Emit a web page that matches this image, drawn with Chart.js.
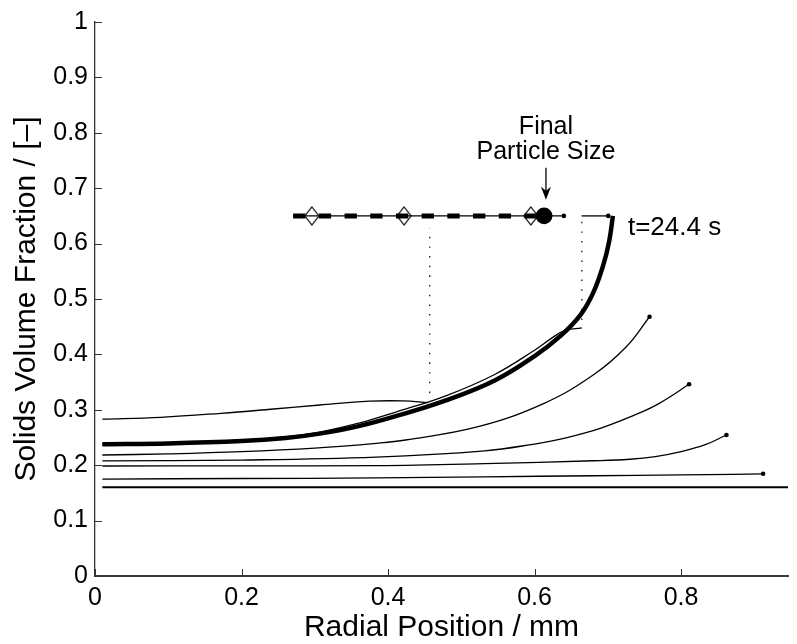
<!DOCTYPE html>
<html>
<head>
<meta charset="utf-8">
<script src="https://cdn.jsdelivr.net/npm/chart.js@4.4.0/dist/chart.umd.min.js"></script>
<style>
  html, body { margin: 0; padding: 0; background: #fff; }
  #wrap { width: 797px; height: 644px; }
</style>
</head>
<body>
<div id="wrap"><canvas id="profiles" width="797" height="644"></canvas></div>
<script>
// solids volume fraction profiles (radial position in mm)
const initX = [0.01, 0.95];
const initY = [0.16, 0.16];

const prof1X = [0.01, 0.2, 0.384, 0.532, 0.68, 0.8, 0.87, 0.912];
const prof1Y = [0.175, 0.176, 0.177, 0.179, 0.181, 0.1825, 0.1835, 0.1845];

const prof2X = [0.01, 0.2, 0.384, 0.532, 0.68, 0.73, 0.765, 0.8, 0.833, 0.862];
const prof2Y = [0.1986, 0.1988, 0.1992, 0.2028, 0.208, 0.2107, 0.2155, 0.2245, 0.237, 0.2545];

const prof3X = [0.01, 0.2, 0.384, 0.532, 0.6, 0.6355, 0.68, 0.703, 0.7403, 0.7703, 0.811];
const prof3Y = [0.2078, 0.2093, 0.2146, 0.226, 0.2382, 0.247, 0.2624, 0.2727, 0.2925, 0.3117, 0.346];

const prof4X = [0.01, 0.1, 0.2, 0.3, 0.384, 0.4241, 0.523, 0.613, 0.68, 0.7253, 0.757];
const prof4Y = [0.2184, 0.2205, 0.2245, 0.231, 0.2395, 0.2455, 0.2695, 0.3117, 0.3628, 0.4139, 0.468];

const prof5X = [0.01, 0.1, 0.2, 0.26, 0.307, 0.36, 0.4107, 0.478, 0.5456, 0.6, 0.622, 0.64, 0.6646];
const prof5Y = [0.238, 0.2395, 0.2447, 0.251, 0.2598, 0.2758, 0.296, 0.3248, 0.3638, 0.4075, 0.428, 0.4425, 0.448];

const prof6X = [0.01, 0.09, 0.172, 0.24, 0.307, 0.3747, 0.42, 0.455];
const prof6Y = [0.283, 0.2865, 0.2937, 0.301, 0.3087, 0.3155, 0.316, 0.313];

// final profile, t = 24.4 s
const finalX = [0.01, 0.1, 0.2, 0.26, 0.307, 0.36, 0.4107, 0.478, 0.5456, 0.6, 0.6355, 0.6625, 0.68, 0.694, 0.702, 0.707];
const finalY = [0.238, 0.2393, 0.2435, 0.249, 0.257, 0.2705, 0.2885, 0.3165, 0.353, 0.397, 0.4335, 0.471, 0.511, 0.562, 0.605, 0.65];

// particle size markers along phi = 0.65
const markY = 0.65;
const sizeLineX = [0.2705, 0.64];
const sizeDashX = [0.2705, 0.613];
const diamondX = [0.296, 0.4219, 0.595];
const finalSizeX = 0.613;
const tipLineX = [0.6642, 0.7006];

// dotted drop lines
const drop1X = 0.457, drop1Y = [0.33, 0.628];
const drop2X = 0.6646, drop2Y = [0.462, 0.6426];

const xTicks = [0, 0.2, 0.4, 0.6, 0.8];

const pts = (xs, ys) => xs.map((x, i) => ({x: x, y: ys[i]}));
const endDot = ctx => ctx.dataIndex === ctx.dataset.data.length - 1 ? 2.3 : 0;

function curve(xs, ys, w, dot) {
    return {
        data: pts(xs, ys),
        showLine: true,
        borderColor: '#000',
        backgroundColor: '#000',
        borderWidth: w,
        tension: 0.4,
        pointRadius: dot ? endDot : 0,
        pointHoverRadius: 0,
        pointBorderWidth: 0
    };
}

function diamond(w, h) {
    const c = document.createElement('canvas');
    c.width = w + 2; c.height = h + 2;
    const g = c.getContext('2d');
    g.beginPath();
    g.moveTo(c.width / 2, 1);
    g.lineTo(c.width - 1, c.height / 2);
    g.lineTo(c.width / 2, c.height - 1);
    g.lineTo(1, c.height / 2);
    g.closePath();
    g.strokeStyle = '#000';
    g.lineWidth = 1.2;
    g.stroke();
    return c;
}

const font = '"Liberation Sans", Arial, sans-serif';

const notes = {
    id: 'notes',
    afterDatasetsDraw(chart) {
        const {ctx, scales: {x, y}} = chart;
        ctx.save();
        // inward tick marks
        ctx.strokeStyle = '#333';
        ctx.lineWidth = 1;
        const b = chart.chartArea.bottom, l = chart.chartArea.left;
        xTicks.forEach(v => {
            const px = Math.round(x.getPixelForValue(v)) + 0.5;
            ctx.beginPath(); ctx.moveTo(px, b); ctx.lineTo(px, b - 7); ctx.stroke();
        });
        y.ticks.forEach(t => {
            const py = Math.round(y.getPixelForValue(t.value)) + 0.5;
            ctx.beginPath(); ctx.moveTo(l, py); ctx.lineTo(l + 7, py); ctx.stroke();
        });

        ctx.fillStyle = '#000';
        ctx.font = '25px ' + font;
        ctx.textBaseline = 'middle';
        ctx.textAlign = 'center';
        const ax = x.getPixelForValue(0.6156);
        ctx.fillText('Final', ax, y.getPixelForValue(0.81));
        ctx.fillText('Particle Size', ax, y.getPixelForValue(0.765));
        ctx.textAlign = 'left';
        ctx.font = '26px ' + font;
        ctx.fillText('t=24.4 s', x.getPixelForValue(0.7275), y.getPixelForValue(0.628));

        // arrow to the final size
        const top = y.getPixelForValue(0.737), tip = y.getPixelForValue(0.679);
        ctx.strokeStyle = '#000';
        ctx.lineWidth = 1.3;
        ctx.beginPath(); ctx.moveTo(ax, top); ctx.lineTo(ax, tip - 8); ctx.stroke();
        ctx.beginPath();
        ctx.moveTo(ax, tip); ctx.lineTo(ax - 5, tip - 13); ctx.lineTo(ax, tip - 9); ctx.lineTo(ax + 5, tip - 13);
        ctx.closePath(); ctx.fill();
        ctx.restore();
    }
};

new Chart(document.getElementById('profiles'), {
    type: 'scatter',
    data: {
        datasets: [
            Object.assign(curve([finalSizeX], [markY], 0, false), {pointRadius: 8.4, showLine: false}),
            Object.assign(curve(diamondX, diamondX.map(() => markY), 0, false), {
                pointStyle: diamond(14, 18), pointRadius: 9, showLine: false
            }),
            Object.assign(curve(sizeDashX, [markY, markY], 5, false), {
                borderDash: [12.3, 13.4], borderCapStyle: 'butt', tension: 0
            }),
            curve(sizeLineX, [markY, markY], 1.3, true),
            curve(tipLineX, [markY, markY], 1.3, true),
            Object.assign(curve([drop1X, drop1X], drop1Y, 1.2, false), {borderDash: [1.5, 8.2]}),
            Object.assign(curve([drop2X, drop2X], drop2Y, 1.2, false), {borderDash: [1.5, 8.2]}),
            curve(finalX, finalY, 4.5, false),
            curve(prof6X, prof6Y, 1.3, false),
            curve(prof5X, prof5Y, 1.3, false),
            curve(prof4X, prof4Y, 1.3, true),
            curve(prof3X, prof3Y, 1.3, true),
            curve(prof2X, prof2Y, 1.3, true),
            curve(prof1X, prof1Y, 1.3, true),
            curve(initX, initY, 2, false)
        ]
    },
    options: {
        responsive: false,
        animation: false,
        events: [],
        layout: {padding: {top: 22, right: 0, bottom: 0, left: 0}},
        plugins: {
            legend: {display: false},
            tooltip: {enabled: false}
        },
        scales: {
            x: {
                type: 'linear',
                min: 0,
                max: 0.946,
                afterBuildTicks: s => { s.ticks = xTicks.map(v => ({value: v})); },
                afterFit: s => { s.height = 68; s.paddingLeft = 0; s.paddingRight = 0; },
                grid: {display: false, drawTicks: false},
                border: {display: true, color: '#3a3a3a', width: 2},
                ticks: {
                    color: '#000',
                    padding: 7,
                    font: {family: font, size: 25},
                    callback: v => String(Math.round(v * 10) / 10)
                },
                title: {
                    display: true,
                    text: 'Radial Position / mm',
                    color: '#000',
                    font: {family: font, size: 30, lineHeight: 1},
                    padding: {top: 0, bottom: 1}
                }
            },
            y: {
                min: 0,
                max: 1,
                afterFit: s => { s.width = 95; },
                grid: {display: false, drawTicks: false},
                border: {display: true, color: '#333', width: 1.3},
                ticks: {
                    stepSize: 0.1,
                    color: '#000',
                    padding: 7,
                    font: {family: font, size: 25},
                    callback: v => String(Math.round(v * 10) / 10)
                },
                title: {
                    display: true,
                    text: 'Solids Volume Fraction / [–]',
                    color: '#000',
                    font: {family: font, size: 30, lineHeight: 1},
                    padding: {top: 12, bottom: 0}
                }
            }
        }
    },
    plugins: [notes]
});
</script>
</body>
</html>
